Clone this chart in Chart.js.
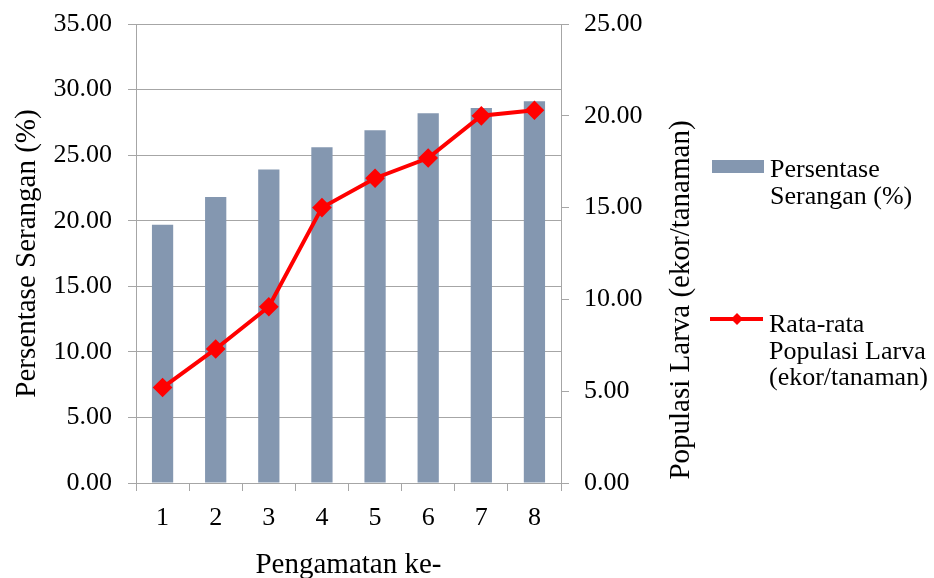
<!DOCTYPE html>
<html>
<head>
<meta charset="utf-8">
<script src="https://cdn.jsdelivr.net/npm/chart.js@4.4.1/dist/chart.umd.min.js"></script>
<style>
  html, body { margin: 0; padding: 0; background: #fff; }
</style>
</head>
<body>
<canvas id="chart" width="934" height="578"></canvas>
<script>
// data
var categories = ['1', '2', '3', '4', '5', '6', '7', '8'];
var seranganValues = [19.7, 21.8, 23.9, 25.6, 26.9, 28.2, 28.6, 29.1];
var larvaValues = [5.2, 7.3, 9.6, 15.0, 16.6, 17.7, 20.0, 20.3];
var leftTicks = [0, 5, 10, 15, 20, 25, 30, 35];
var rightTicks = [0, 5, 10, 15, 20, 25];

var barLabel = ['Persentase', 'Serangan (%)'];
var lineLabel = ['Rata-rata', 'Populasi Larva', '(ekor/tanaman)'];
var rightTitle = 'Populasi Larva (ekor/tanaman)';

var serif = "'Liberation Serif', 'Times New Roman', serif";
var gridColor = '#a6a6a6';
var barColor = '#8497b0';
var lineColor = '#ff0000';

Chart.defaults.font.family = serif;
Chart.defaults.color = '#000';

// right axis title + legend, drawn by hand (multi-line labels)
var extras = {
  id: 'extras',
  afterDraw: function (chart) {
    var ctx = chart.ctx;
    ctx.save();
    ctx.fillStyle = '#000';

    // right axis title, reads bottom to top
    ctx.font = '29px ' + serif;
    ctx.textAlign = 'center';
    ctx.textBaseline = 'middle';
    ctx.translate(681, 300);
    ctx.rotate(-Math.PI / 2);
    ctx.fillText(rightTitle, 0, 0);
    ctx.setTransform(1, 0, 0, 1, 0, 0);

    // legend
    var bar = chart.data.datasets[0], line = chart.data.datasets[1];
    ctx.fillStyle = bar.backgroundColor;
    ctx.fillRect(712, 160, 52, 13);

    ctx.strokeStyle = line.borderColor;
    ctx.lineWidth = 4;
    ctx.beginPath();
    ctx.moveTo(710, 319);
    ctx.lineTo(763, 319);
    ctx.stroke();
    ctx.fillStyle = line.borderColor;
    ctx.beginPath();
    ctx.moveTo(737, 313); ctx.lineTo(743, 319); ctx.lineTo(737, 325); ctx.lineTo(731, 319);
    ctx.closePath();
    ctx.fill();

    ctx.fillStyle = '#000';
    ctx.font = '26px ' + serif;
    ctx.textAlign = 'left';
    ctx.textBaseline = 'alphabetic';
    barLabel.forEach(function (t, i) { ctx.fillText(t, 770, 177 + i * 26.7); });
    lineLabel.forEach(function (t, i) { ctx.fillText(t, 769, 332 + i * 26.7); });
    ctx.restore();
  }
};

new Chart(document.getElementById('chart'), {
  data: {
    labels: categories,
    datasets: [
      {
        type: 'bar',
        label: barLabel.join(' '),
        data: seranganValues,
        backgroundColor: barColor,
        borderWidth: 0,
        barPercentage: 0.4,
        categoryPercentage: 1,
        yAxisID: 'y',
        order: 1
      },
      {
        type: 'line',
        label: lineLabel.join(' '),
        data: larvaValues,
        borderColor: lineColor,
        backgroundColor: lineColor,
        borderWidth: 4,
        tension: 0,
        pointStyle: 'rectRot',
        pointRadius: 7,
        pointBorderColor: lineColor,
        pointBackgroundColor: lineColor,
        yAxisID: 'y1',
        order: 0
      }
    ]
  },
  options: {
    responsive: false,
    animation: false,
    layout: { padding: { left: 0, right: 283, top: 24, bottom: 0 } },
    plugins: {
      legend: { display: false },
      tooltip: { enabled: false }
    },
    scales: {
      x: {
        offset: true,
        grid: { offset: true, drawOnChartArea: false, tickLength: 8, color: gridColor, lineWidth: 1 },
        border: { color: gridColor, width: 1 },
        ticks: { font: { size: 26 }, color: '#000', padding: 12, maxRotation: 0 },
        title: { display: true, text: 'Pengamatan ke-', font: { size: 29, lineHeight: 0.9 }, color: '#000', padding: 0 },
        afterFit: function (s) { s.height = 95; }
      },
      y: {
        position: 'left',
        min: 0,
        max: 35,
        afterBuildTicks: function (s) { s.ticks = leftTicks.map(function (v) { return { value: v }; }); },
        ticks: { font: { size: 26 }, color: '#000', padding: 16, callback: function (v) { return Number(v).toFixed(2); } },
        grid: { color: gridColor, lineWidth: 1, tickLength: 8 },
        border: { color: gridColor, width: 1 },
        title: { display: true, text: 'Persentase Serangan (%)', font: { size: 29, lineHeight: 1 }, color: '#000', padding: { top: 13, bottom: 0 } },
        afterFit: function (s) { s.width = 136; s.paddingTop = 0; s.paddingBottom = 0; }
      },
      y1: {
        position: 'right',
        min: 0,
        max: 25,
        afterBuildTicks: function (s) { s.ticks = rightTicks.map(function (v) { return { value: v }; }); },
        ticks: { font: { size: 26 }, color: '#000', padding: 15, callback: function (v) { return Number(v).toFixed(2); } },
        grid: { drawOnChartArea: false, color: gridColor, lineWidth: 1, tickLength: 8 },
        border: { color: gridColor, width: 1 },
        afterFit: function (s) { s.width = 90; s.paddingTop = 0; s.paddingBottom = 0; }
      }
    }
  },
  plugins: [extras]
});
</script>
</body>
</html>
